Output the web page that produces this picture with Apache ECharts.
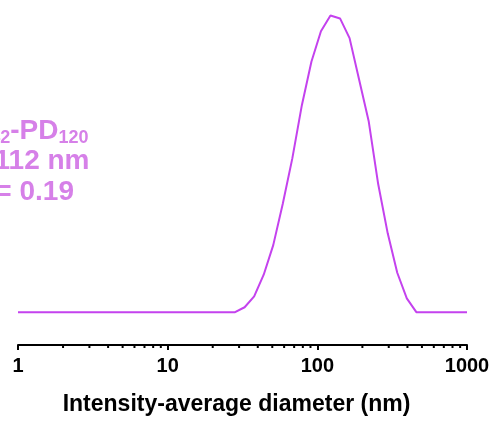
<!DOCTYPE html>
<html>
<head>
<meta charset="utf-8">
<script src="https://cdn.jsdelivr.net/npm/echarts@6/dist/echarts.min.js"></script>
<style>
html,body{margin:0;padding:0;background:#fff;}
#chart{width:493px;height:421px;}
</style>
</head>
<body>
<div id="chart"></div>
<script>
// Diameter bins (nm) and intensity (%)
const diameters = [1, 24.36, 28.21, 32.67, 37.84, 43.82, 50.75, 58.77, 68.06, 78.82, 91.28, 105.7, 122.4, 141.8, 164.2, 190.1, 220.2, 255.0, 295.3, 342.0, 396.1, 458.7, 1000];
const intensity = [0, 0, 0, 0.25, 0.8, 1.9, 3.4, 5.5, 7.8, 10.5, 12.7, 14.25, 15.05, 14.9, 13.9, 11.8, 9.7, 6.5, 4.0, 2.0, 0.7, 0, 0];
const minorTickValues = [2,3,4,5,6,7,8,9,20,30,40,50,60,70,80,90,200,300,400,500,600,700,800,900];
const xTickLabels = ['1', '10', '100', '1000'];
const xTitle = 'Intensity-average diameter (nm)';
const annotation = [
  '{n|PDMA}{s|42}{n|-PD}{s|120}',
  '{n|D}{s|h}{n| = 112 nm}',
  '{n|PDI = 0.19}'
];

const lineColor = '#c442ee';
const textColor = '#d680e8';
const font = '"Liberation Sans", Arial, sans-serif';
const yMin = -1.665, yMax = 15.835;

const chart = echarts.init(document.getElementById('chart'), null, {renderer: 'canvas'});
const richStyle = {
  n: {fontSize: 28, fontWeight: 'bold', fontFamily: font, fill: textColor, color: textColor, lineHeight: 32},
  s: {fontSize: 18, fontWeight: 'bold', fontFamily: font, fill: textColor, color: textColor, verticalAlign: 'bottom', lineHeight: 18}
};
const annRight = [88.5, 89.5, 74];
const annY = [131, 161.5, 192.5];

chart.setOption({
  animation: false,
  backgroundColor: '#ffffff',
  grid: {left: 18, right: 26, top: 0, bottom: 71, containLabel: false},
  xAxis: {
    type: 'log', logBase: 10, min: 1, max: 1000,
    name: xTitle, nameLocation: 'middle', nameGap: 48,
    nameTextStyle: {fontSize: 23, fontWeight: 'bold', color: '#000', fontFamily: font, padding: [0, 12, 0, 0]},
    axisLine: {show: true, onZero: false, lineStyle: {color: '#000', width: 2}},
    axisTick: {show: true, length: 5, inside: false, lineStyle: {color: '#000', width: 2}},
    minorTick: {show: false},
    splitLine: {show: false},
    axisLabel: {
      margin: 11, fontSize: 20, fontWeight: 'bold', color: '#000', fontFamily: font,
      formatter: function (v) { const i = Math.round(Math.log10(v)); return xTickLabels[i] !== undefined ? xTickLabels[i] : ''; }
    }
  },
  yAxis: {type: 'value', min: yMin, max: yMax, show: false},
  graphic: annotation.map(function (t, i) {
    return {
      type: 'text', x: annRight[i], y: annY[i], silent: true,
      style: {text: t, rich: richStyle, align: 'right', verticalAlign: 'middle', fill: textColor,
        font: 'bold 28px ' + font}
    };
  }),
  series: [
    {
      type: 'line',
      data: diameters.map(function (d, i) { return [d, intensity[i]]; }),
      showSymbol: false, symbol: 'none', smooth: false,
      lineStyle: {color: lineColor, width: 2},
      clip: true
    },
    {
      type: 'custom',
      data: minorTickValues.map(function (v) { return [v]; }),
      renderItem: function (params, api) {
        const p = api.coord([api.value(0), yMin]);
        return {type: 'line', shape: {x1: p[0], y1: p[1], x2: p[0], y2: p[1] + 3},
          style: {stroke: '#000', lineWidth: 2}};
      },
      silent: true
    }
  ]
});
</script>
</body>
</html>
